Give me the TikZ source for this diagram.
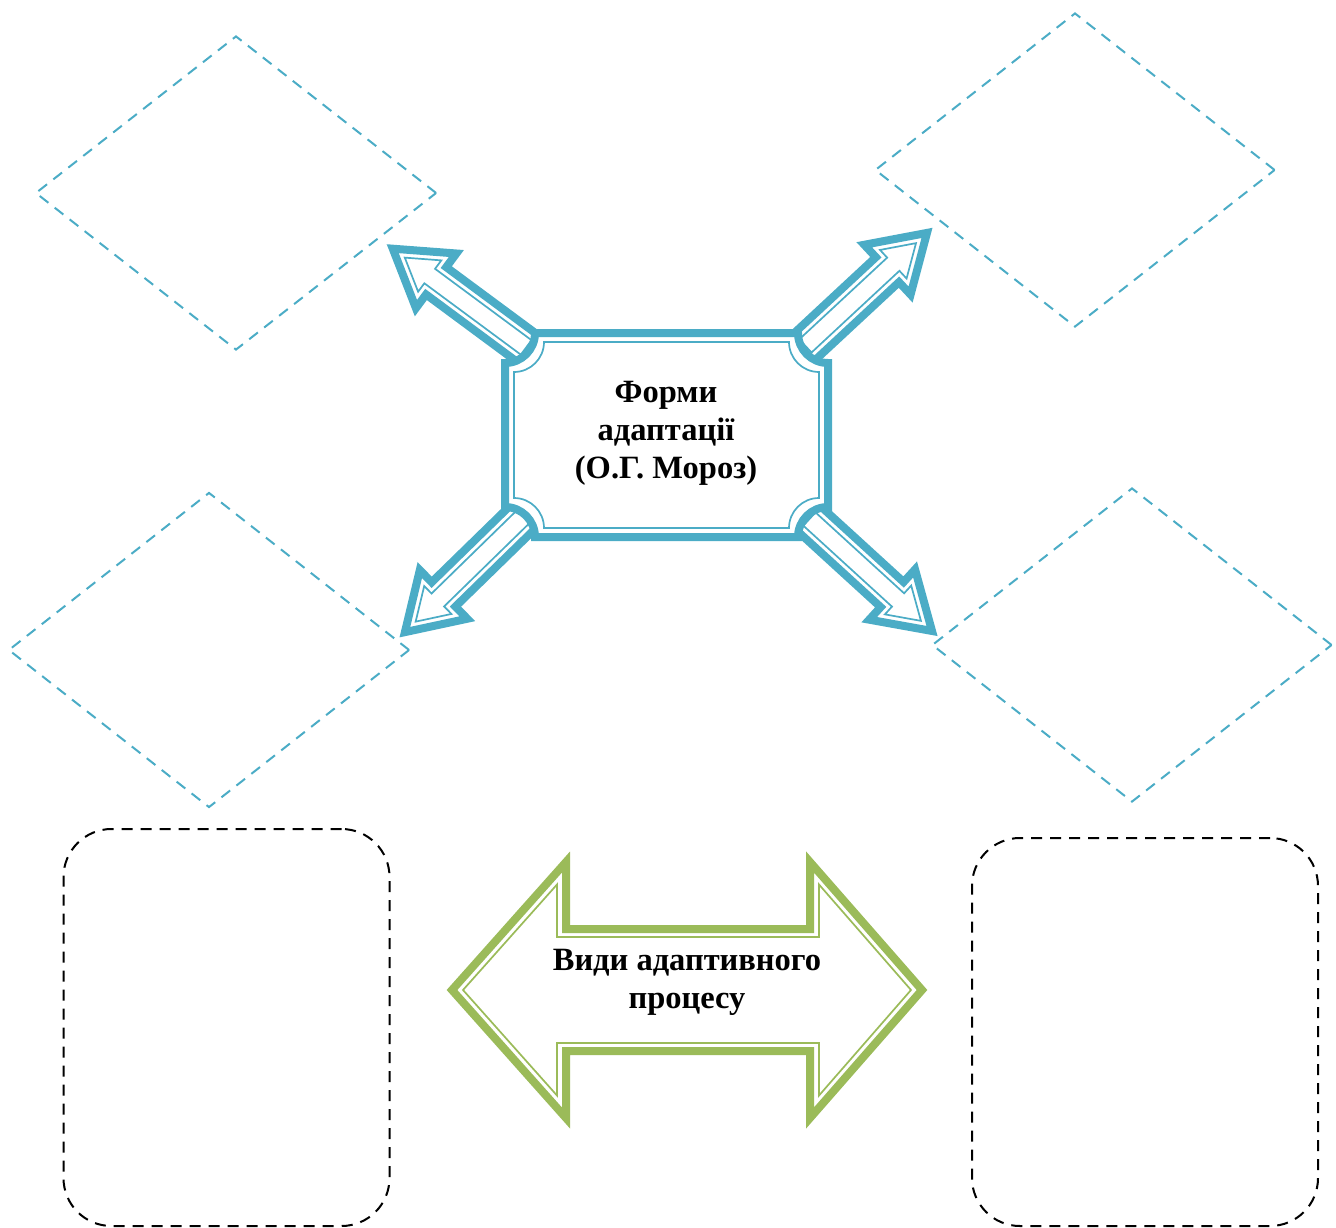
\documentclass[tikz,border=0pt]{standalone}
\usepackage{fontspec}
\setmainfont{Liberation Serif}
\usetikzlibrary{shapes.geometric}
\definecolor{tealc}{HTML}{4BACC6}
\definecolor{greenc}{HTML}{9BBB59}
\tikzset{
  dia/.style={diamond, draw=tealc, line width=2pt, dash pattern=on 11pt off 8pt, inner sep=0pt},
  rbox/.style={rectangle, draw=black, line width=2pt, dash pattern=on 11pt off 8pt, rounded corners=48pt, inner sep=0pt},
  thickout/.style={line width=8pt, line join=miter, fill=white},
  thinin/.style={line width=1.7pt, line join=miter},
  lbl/.style={font=\fontsize{32.5}{38}\selectfont\bfseries, align=center, inner sep=0pt}
}
\newcommand{\bluearrow}[3]{%
  \begin{scope}[shift={(#1,#2)},rotate=#3]
    \draw[tealc, thickout] (0,-17) -- (118,-17) -- (118,-34) -- (172,0) -- (118,34) -- (118,17) -- (0,17) -- cycle;
    \draw[tealc, thinin] (6,-9) -- (126,-9) -- (126,-19.5) -- (157,0) -- (126,19.5) -- (126,9) -- (6,9) -- cycle;
  \end{scope}}
\newcommand{\plaque}[6]{%
  \pgfmathsetmacro{\pk}{0.5523*#6}%
  \draw[#1] (#2+#6,#3) -- (#4-#6,#3)
    .. controls (#4-#6,#3+\pk) and (#4-\pk,#3+#6) .. (#4,#3+#6)
    -- (#4,#5-#6)
    .. controls (#4-\pk,#5-#6) and (#4-#6,#5-\pk) .. (#4-#6,#5)
    -- (#2+#6,#5)
    .. controls (#2+#6,#5-\pk) and (#2+\pk,#5-#6) .. (#2,#5-#6)
    -- (#2,#3+#6)
    .. controls (#2+\pk,#3+#6) and (#2+#6,#3+\pk) .. cycle;}
\begin{document}
\begin{tikzpicture}[x=1pt,y=-1pt]
\useasboundingbox (0,0) rectangle (1336,1228);
% diamonds
\node[dia, minimum width=401pt, minimum height=314pt] (d1) at (236,193) {};
\node[dia, minimum width=400pt, minimum height=314pt] (d2) at (1075,170) {};
\node[dia, minimum width=401pt, minimum height=315pt] (d3) at (209,650) {};
\node[dia, minimum width=400pt, minimum height=314pt] (d4) at (1132,645) {};
% rounded boxes
\node[rbox, minimum width=326pt, minimum height=397pt] (r1) at (226.5,1027.5) {};
\node[rbox, minimum width=346pt, minimum height=388pt] (r2) at (1145,1032) {};
% blue arrows
\bluearrow{531}{351}{143.5}
\bluearrow{801}{350}{42.9}
\bluearrow{528}{512}{224.3}
\bluearrow{805}{515}{-42.4}
% central plaque
\plaque{tealc, thickout}{505}{333}{828}{537}{30}
\plaque{tealc, thinin}{514}{342}{819}{528}{30}
\node[lbl] (box) at (666,433) {Форми\\адаптації\\(О.Г. Мороз)};
% green double arrow
\draw[greenc, line width=8pt, line join=miter, fill=white]
  (452,990) -- (566,862) -- (566,929) -- (810,929) -- (810,862) -- (922,990)
  -- (810,1118) -- (810,1051) -- (566,1051) -- (566,1118) -- cycle;
\draw[greenc, thinin]
  (463,990) -- (557,884.5) -- (557,937) -- (819,937) -- (819,884.5) -- (911,990)
  -- (819,1095.5) -- (819,1043) -- (557,1043) -- (557,1095.5) -- cycle;
\node[lbl] (kinds) at (687,982) {Види адаптивного\\процесу};
\end{tikzpicture}
\end{document}
